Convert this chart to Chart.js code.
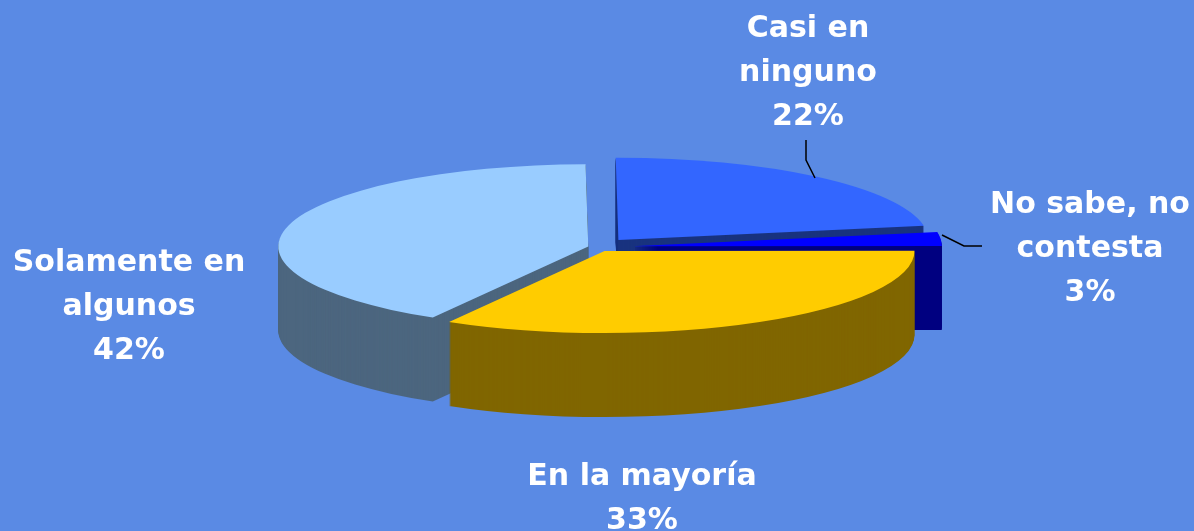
<!DOCTYPE html>
<html>
<head>
<meta charset="utf-8">
<title>Pie chart</title>
<script src="https://cdn.jsdelivr.net/npm/chart.js@4"></script>
<style>
    html, body { margin: 0; padding: 0; background: #5a8ae4; overflow: hidden; }
    canvas { display: block; }
</style>
</head>
<body>
<canvas id="pieChart" width="1194" height="531"></canvas>
<script>
var categories = ['Casi en ninguno', 'No sabe, no contesta', 'En la mayoría', 'Solamente en algunos'];
// the labels show them rounded
var percentages = [22.4, 2.7, 33.4, 41.5];
var labelLines = [['Casi en', 'ninguno'], ['No sabe, no', 'contesta'], ['En la mayoría'], ['Solamente en', 'algunos']];
var topColors = ['#3366ff', '#0000ff', '#ffcc00', '#99ccff'];
var wallColors = ['#19337f', '#000080', '#806600', '#4c667f'];

// how far each slice is pulled out of the pie, and the order to paint them (back to front)
var sliceShift = [35, 36, 17, 8];
var paintOrder = [0, 1, 3, 2];
var squash = 0.265;
var depth = 84;

// where the text goes: centre x and first baseline, and the leader lines
var labelSpots = [[808, 37], [1090, 213], [642, 485], [129, 271]];
var lineGap = 44;
var leaders = [
    [[806, 140], [806, 160], [815, 178]],
    [[942, 235], [964, 246], [982, 246]]
];

var fakePie3d = {
    id: 'fakePie3d',
    beforeDatasetsDraw: function (chart) {
        var ctx = chart.ctx;
        var arcs = chart.getDatasetMeta(0).data;

        paintOrder.forEach(function (i) {
            var arc = arcs[i];
            var mid = (arc.startAngle + arc.endAngle) / 2;
            var dx = Math.cos(mid) * sliceShift[i];
            var dy = Math.sin(mid) * sliceShift[i] * squash;

            // the side of the slice is the same arc painted again and again going down
            var wall = Object.create(arc);
            wall.options = Object.assign({}, arc.options, { backgroundColor: wallColors[i] });
            for (var step = depth; step >= 0; step--) {
                ctx.save();
                ctx.translate(dx, arc.y + dy + step);
                ctx.scale(1, squash);
                ctx.translate(0, -arc.y);
                (step === 0 ? arc : wall).draw(ctx);
                ctx.restore();
            }
        });
        return false;
    },
    afterDraw: function (chart) {
        var ctx = chart.ctx;
        ctx.save();

        ctx.strokeStyle = '#000000';
        ctx.lineWidth = 1.5;
        leaders.forEach(function (points) {
            ctx.beginPath();
            points.forEach(function (p, n) {
                if (n === 0) {
                    ctx.moveTo(p[0], p[1]);
                } else {
                    ctx.lineTo(p[0], p[1]);
                }
            });
            ctx.stroke();
        });

        ctx.fillStyle = '#ffffff';
        ctx.font = 'bold 30px "DejaVu Sans"';
        ctx.textAlign = 'center';
        ctx.textBaseline = 'alphabetic';
        labelLines.forEach(function (lines, i) {
            var all = lines.concat([Math.round(percentages[i]) + '%']);
            all.forEach(function (text, n) {
                ctx.fillText(text, labelSpots[i][0], labelSpots[i][1] + n * lineGap);
            });
        });
        ctx.restore();
    }
};

new Chart(document.getElementById('pieChart'), {
    type: 'pie',
    data: {
        labels: categories,
        datasets: [{
            data: percentages,
            backgroundColor: topColors,
            borderWidth: 0
        }]
    },
    options: {
        responsive: false,
        animation: false,
        rotation: -0.5,
        radius: 310,
        layout: {
            padding: { right: 2, bottom: 37 }
        },
        plugins: {
            legend: { display: false },
            tooltip: { enabled: false }
        }
    },
    plugins: [fakePie3d]
});
</script>
</body>
</html>
